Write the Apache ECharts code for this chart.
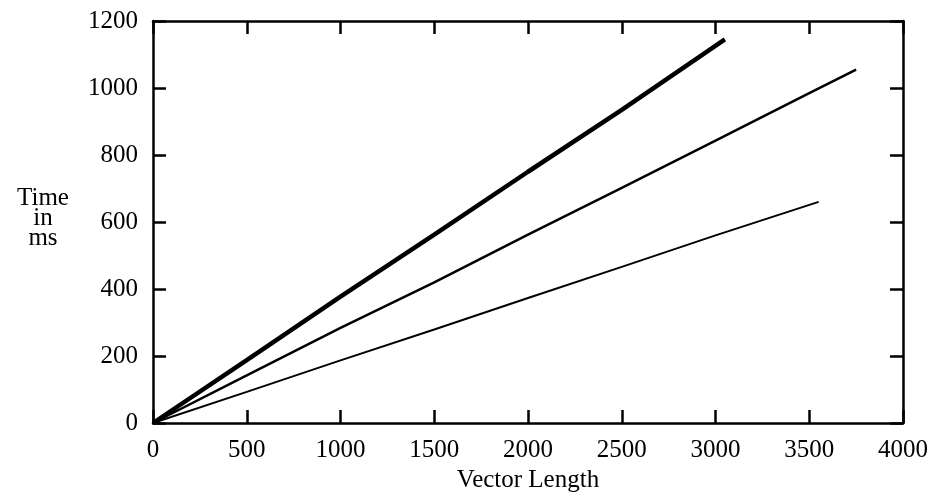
<!DOCTYPE html>
<html>
<head>
<meta charset="utf-8">
<script src="https://cdn.jsdelivr.net/npm/echarts@6/dist/echarts.min.js"></script>
<style>
  html, body { margin: 0; padding: 0; background: #fff; }
  #chart { width: 936px; height: 498px; }
</style>
</head>
<body>
<div id="chart"></div>
<script>
// values
var thickLine = [[0, 0], [500, 188], [1000, 377], [1500, 562], [2000, 750], [2500, 935], [3050, 1145]];
var mediumLine = [[0, 0], [500, 142], [1000, 284], [1500, 420], [2000, 562], [2500, 702], [3000, 843], [3500, 985], [3750, 1055]];
var thinLine = [[0, 0], [500, 93], [1000, 187], [1500, 279], [2000, 373], [2500, 466], [3000, 560], [3550, 660]];

var xMin = 0, xMax = 4000, xStep = 500;
var yMin = 0, yMax = 1200, yStep = 200;

var font = "'Liberation Serif', 'DejaVu Serif', serif";

function frameLine() {
    return { show: true, onZero: false, lineStyle: { color: "#000", width: 2.5 } };
}
function frameTick() {
    return { show: true, inside: true, length: 13, lineStyle: { color: "#000", width: 2.5 } };
}
var plain = function (v) { return String(v); };

var chart = echarts.init(document.getElementById("chart"));

var option = {
    animation: false,
    backgroundColor: "#fff",
    grid: {
        left: 153,
        right: 33,
        top: 21,
        bottom: 75
    },
    xAxis: [
        {
            type: "value",
            position: "bottom",
            min: xMin, max: xMax, interval: xStep,
            axisLine: frameLine(),
            axisTick: frameTick(),
            splitLine: { show: false },
            axisLabel: { color: "#000", fontFamily: font, fontSize: 25, margin: 15, formatter: plain },
            name: "Vector Length",
            nameLocation: "middle",
            nameGap: 40,
            nameTextStyle: { color: "#000", fontFamily: font, fontSize: 25 }
        },
        {
            type: "value",
            position: "top",
            min: xMin, max: xMax, interval: xStep,
            axisLine: frameLine(),
            axisTick: frameTick(),
            splitLine: { show: false },
            axisLabel: { show: false }
        }
    ],
    yAxis: [
        {
            type: "value",
            position: "left",
            min: yMin, max: yMax, interval: yStep,
            axisLine: frameLine(),
            axisTick: frameTick(),
            splitLine: { show: false },
            axisLabel: { color: "#000", fontFamily: font, fontSize: 25, margin: 15, formatter: plain }
        },
        {
            type: "value",
            position: "right",
            min: yMin, max: yMax, interval: yStep,
            axisLine: frameLine(),
            axisTick: frameTick(),
            splitLine: { show: false },
            axisLabel: { show: false }
        }
    ],
    graphic: [
        {
            type: "text",
            x: 43,
            y: 188,
            style: {
                text: "Time\nin\nms",
                align: "center",
                verticalAlign: "top",
                fill: "#000",
                font: "25px " + font,
                lineHeight: 20
            }
        }
    ],
    series: [
        {
            type: "line",
            data: thickLine,
            showSymbol: false,
            lineStyle: { color: "#000", width: 4.5 }
        },
        {
            type: "line",
            data: mediumLine,
            showSymbol: false,
            lineStyle: { color: "#000", width: 2.5 }
        },
        {
            type: "line",
            data: thinLine,
            showSymbol: false,
            lineStyle: { color: "#000", width: 2 }
        }
    ]
};

chart.setOption(option);
</script>
</body>
</html>
